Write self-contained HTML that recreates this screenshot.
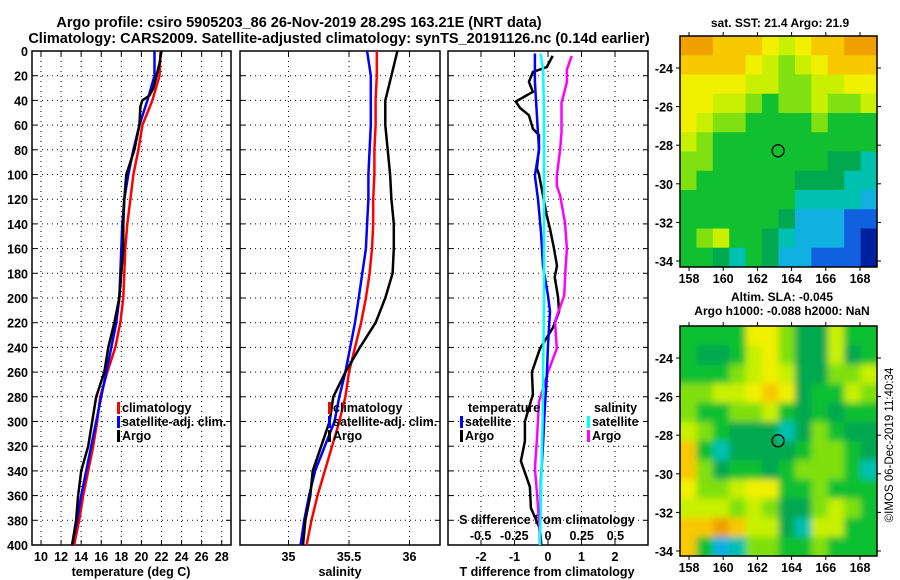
<!DOCTYPE html>
<html><head><meta charset="utf-8">
<style>
html,body{margin:0;padding:0;background:#fff;}
svg{display:block;font-family:"Liberation Sans",sans-serif;font-weight:bold;}
</style></head>
<body>
<svg id="fig" width="900" height="580" viewBox="0 0 900 580" xmlns="http://www.w3.org/2000/svg">
<rect width="900" height="580" fill="#fff"/>
<text x="299" y="27" font-size="14.5" text-anchor="middle">Argo profile: csiro 5905203_86 26-Nov-2019 28.29S 163.21E (NRT data)</text>
<text x="339" y="43" font-size="14.5" text-anchor="middle">Climatology: CARS2009. Satellite-adjusted climatology: synTS_20191126.nc (0.14d earlier)</text>
<text x="780" y="27" font-size="12" text-anchor="middle">sat. SST: 21.4 Argo: 21.9</text>
<text x="782" y="301" font-size="12" text-anchor="middle">Altim. SLA: -0.045</text>
<text x="782" y="315" font-size="12" text-anchor="middle">Argo h1000: -0.088 h2000: NaN</text>
<text transform="translate(893,445) rotate(-90)" font-size="11.5" font-weight="normal" text-anchor="middle">©IMOS 06-Dec-2019 11:40:34</text>
<g id="g"></g>
</svg>
<script>
// ---- data ----
const depthLevels = [0,20,40,60,80,100,120,140,160,180,200,220,240,260,280,300,320,340,360,380,400];
const climT = [21.9,21.8,21.1,20.1,19.7,19.2,18.9,18.6,18.4,18.3,18.2,17.9,17.4,16.6,15.9,15.6,15.2,14.7,14.2,13.8,13.3];
const satT = [21.3,21.3,20.6,19.8,19.2,18.7,18.3,18.1,18.0,17.9,17.8,17.5,17.0,16.5,16.0,15.5,15.0,14.5,14.0,13.6,13.1];
const argoTDepth = [0,10,20,30,36,40,45,60,80,100,120,140,160,180,200,220,240,260,280,300,320,340,360,380,400];
const argoT = [22.0,21.8,21.5,21.2,20.8,20.1,19.9,19.8,19.3,18.5,18.3,18.2,18.2,18.0,17.8,17.3,16.7,16.3,15.5,15.1,14.7,14.0,13.7,13.5,13.1];
const climS = [35.73,35.73,35.72,35.72,35.71,35.71,35.70,35.70,35.69,35.67,35.64,35.60,35.55,35.50,35.47,35.42,35.36,35.30,35.24,35.19,35.15];
const satS = [35.65,35.68,35.68,35.68,35.67,35.66,35.66,35.65,35.64,35.61,35.58,35.55,35.51,35.47,35.42,35.38,35.30,35.22,35.17,35.13,35.10];
const argoS = [35.90,35.85,35.80,35.80,35.82,35.84,35.85,35.87,35.87,35.86,35.80,35.72,35.59,35.47,35.37,35.34,35.27,35.20,35.18,35.14,35.12];
const argoTdDepth = [4,13,17,25,33,41,46,52,63,68,79,95,100,117,133,144,160,174,183,199,211,224,241,260,278,300,316,332,353,370,387,400];
const argoTd = [0.14,-0.04,-0.45,-0.57,-0.45,-0.96,-0.84,-0.57,-0.45,-0.27,-0.27,-0.33,-0.27,-0.15,-0.04,0.06,0.18,0.27,0.2,0.3,0.33,0.15,-0.24,-0.48,-0.45,-0.69,-0.69,-0.81,-0.54,-0.51,-0.24,-0.2];
const satTdDepth = [2,25,52,80,101,120,147,174,198,211,238,265,292,319,346,392,400];
const satTd = [-0.39,-0.39,-0.33,-0.27,-0.39,-0.3,-0.21,-0.15,0,0.06,0,-0.04,-0.1,-0.15,-0.21,-0.24,-0.24];
const satSdDepth = [2,15,50,100,200,300,400];
const satSd = [-0.055,-0.036,-0.03,-0.03,-0.03,-0.04,-0.06];
const argoSdDepth = [4,15,25,42,66,80,101,109,117,139,160,177,198,219,241,260,284,311,338,360,392,400];
const argoSd = [0.176,0.14,0.14,0.1,0.1,0.09,0.065,0.065,0.09,0.126,0.14,0.13,0.12,0.052,0.065,0.0,-0.067,-0.08,-0.097,-0.08,-0.06,-0.06];
const depthTicks = [0,20,40,60,80,100,120,140,160,180,200,220,240,260,280,300,320,340,360,380,400];
const tempTicks = [10,12,14,16,18,20,22,24,26,28];
const salTicks = [35,35.5,36];
const tdTicks = [-2,-1,0,1,2];
const sdTicks = [-0.5,-0.25,0,0.25,0.5];
const sdTickLabels = ["-0.5","-0.25","0","0.25","0.5"];
const latTicks = [-24,-26,-28,-30,-32,-34];
const lonTicks = [158,160,162,164,166,168];
const argoLon = 163.21, argoLat = -28.29;
const sstGrid = [
[10,10,9,9,9,8,7,8,9,9,10,10],
[9,9,9,9,8,7,6,7,8,9,9,9],
[8,8,8,8,7,7,6,6,7,7,8,8],
[8,8,7,7,6,5,6,6,7,6,6,7],
[8,7,6,6,5,5,5,5,6,5,5,5],
[7,6,5,5,5,5,5,5,5,5,5,5],
[6,6,5,5,5,5,5,5,5,4,4,3],
[6,5,5,5,5,5,5,4,4,4,3,3],
[5,5,5,5,5,5,5,3,3,3,3,2],
[5,5,5,5,5,5,4,2,2,2,1,1],
[5,6,7,5,5,4,3,2,2,2,1,0],
[5,5,4,3,5,4,2,2,1,1,1,0]];
const slaGrid = [
[5,5,5,5,8,8,6,4,4,7,5,5],
[5,4,4,5,7,8,6,4,4,7,4,5],
[5,5,5,6,7,8,7,4,4,6,6,7],
[6,6,7,7,8,9,8,4,5,5,7,6],
[6,5,5,6,6,7,5,4,5,4,5,5],
[7,6,5,4,4,4,3,4,6,5,4,4],
[9,5,3,4,4,4,4,5,6,6,5,4],
[9,6,4,5,5,4,5,6,6,6,5,3],
[8,6,6,7,8,8,5,5,6,5,5,5],
[7,7,7,6,7,6,4,4,6,7,6,5],
[9,9,10,9,7,7,4,3,7,7,5,5],
[9,5,2,3,6,6,5,5,6,5,5,5]];
const cmap = ["#0020a0","#1060e0","#10b0e0","#00c0b0","#00a850","#10c030","#80e010","#c8f000","#f0f000","#f8c800","#f0a000"];

// ---- helpers ----
const NS="http://www.w3.org/2000/svg";
const G=document.getElementById('g');
function el(tag,attrs,parent){const e=document.createElementNS(NS,tag);for(const k in attrs)e.setAttribute(k,attrs[k]);(parent||G).appendChild(e);return e;}
const top0=51, bot0=545;
const yD=d=>top0+(bot0-top0)*d/400;
const panels=[
 {name:'temperature-panel',x0:32,x1:231,xs:v=>41+(v-10)*10.04},
 {name:'salinity-panel',x0:240,x1:440,xs:v=>288.5+(v-35)*121},
 {name:'difference-panel',x0:448,x1:648,xs:v=>548+v*33.5}
];
const sdx=v=>548+v*134.8;

panels.forEach((p,pi)=>{
  const grp=el('g',{});
  
  
  const xt = pi===0?tempTicks:pi===1?salTicks:tdTicks;
  depthTicks.forEach(d=>{
    if(d>0&&d<400){const l=el('line',{x1:p.x0,x2:p.x1,y1:yD(d),y2:yD(d),stroke:'#000','stroke-width':1,'stroke-dasharray':'1 4'},grp);
      }
    el('line',{x1:p.x0,x2:p.x0+5,y1:yD(d),y2:yD(d),stroke:'#000'},grp);
    el('line',{x1:p.x1-5,x2:p.x1,y1:yD(d),y2:yD(d),stroke:'#000'},grp);
  });
  xt.forEach(v=>{const x=p.xs(v);
    const l=el('line',{x1:x,x2:x,y1:top0,y2:bot0,stroke:'#000','stroke-dasharray':'1 4'},grp);
    
    el('line',{x1:x,x2:x,y1:top0,y2:top0+5,stroke:'#000'},grp);
    el('line',{x1:x,x2:x,y1:bot0-5,y2:bot0,stroke:'#000'},grp);
    const t=el('text',{x:x,y:561,'font-size':12.5,'text-anchor':'middle'},grp);
    t.textContent=String(v);
    
  });
  const r=el('rect',{x:p.x0,y:top0,width:p.x1-p.x0,height:bot0-top0,fill:'none',stroke:'#000','stroke-width':1.5},grp);
  
});
depthTicks.forEach(d=>{const t=el('text',{x:28,y:yD(d)+5,'font-size':12.5,'text-anchor':'end'});t.textContent=d;
  });
sdTicks.forEach((v,i)=>{const t=el('text',{x:sdx(v),y:540,'font-size':12.5,'text-anchor':'middle'});t.textContent=sdTickLabels[i];
  });
[['temperature (deg C)',131,'temperature-axis-title'],['salinity',340,'salinity-axis-title'],['T difference from climatology',547,'t-diff-axis-title']].forEach(a=>{
  const t=el('text',{x:a[1],y:576,'font-size':12.5,'text-anchor':'middle'});t.textContent=a[0];
  });
{const t=el('text',{x:547,y:524,'font-size':12.5,'text-anchor':'middle'});t.textContent='S difference from climatology';
 }

function line(xs,ds,vals,color,name){
  const pts=vals.map((v,i)=>xs(v).toFixed(1)+','+yD(ds[i]).toFixed(1)).join(' ');
  const l=el('polyline',{points:pts,fill:'none',stroke:color,'stroke-width':2.5,'stroke-linejoin':'miter'});
  
}
const P=panels;
line(P[0].xs,depthLevels,climT,'#ff0000','temp-climatology-line');
line(P[0].xs,depthLevels,satT,'#0000ff','temp-satellite-line');
line(P[0].xs,argoTDepth,argoT,'#000','temp-argo-line');
line(P[1].xs,depthLevels,climS,'#ff0000','sal-climatology-line');
line(P[1].xs,depthLevels,satS,'#0000ff','sal-satellite-line');
line(P[1].xs,depthLevels,argoS,'#000','sal-argo-line');
line(P[2].xs,argoTdDepth,argoTd,'#000','tdiff-argo-line');
line(sdx,argoSdDepth,argoSd,'#ff00ff','sdiff-argo-line');
line(P[2].xs,satTdDepth,satTd,'#0000ff','tdiff-satellite-line');
line(sdx,satSdDepth,satSd,'#00ffff','sdiff-satellite-line');

function legend(x,y,label,color,name){
  const b=el('rect',{x:x,y:y-10,width:3,height:12,fill:color});
  
  const t=el('text',{x:x+5,y:y,'font-size':12.5});t.textContent=label;
  
}
legend(117,412,'climatology','#ff0000','legend-climatology');
legend(117,426,'satellite-adj. clim.','#0000ff','legend-satellite');
legend(117,440,'Argo','#000','legend-argo');
legend(328,412,'climatology','#ff0000','legend-sal-climatology');
legend(328,426,'satellite-adj. clim.','#0000ff','legend-sal-satellite');
legend(328,440,'Argo','#000','legend-sal-argo');
{const t=el('text',{x:468,y:412,'font-size':12.5});t.textContent='temperature';}
legend(460,426,'satellite','#0000ff','legend-tdiff-satellite');
legend(460,440,'Argo','#000','legend-tdiff-argo');
{const t=el('text',{x:594,y:412,'font-size':12.5});t.textContent='salinity';}
legend(587,426,'satellite','#00ffff','legend-sdiff-satellite');
legend(587,440,'Argo','#ff00ff','legend-sdiff-argo');

// ---- maps ----
const defs=el('defs',{});
const f=el('filter',{id:'blur',x:'-5%',y:'-5%',width:'110%',height:'110%'},defs);
el('feGaussianBlur',{stdDeviation:3.5},f);
function map(name,y0,y1,lat24,lat34,grid,blur){
  const x0=680,x1=877;
  const lonX=l=>689+(l-158)*17.1;
  const latY=l=>lat24+(lat34-lat24)*(-24-l)/10;
  const grp=el('g',{});
  
  const cp=el('clipPath',{id:'cp'+name},defs);
  el('rect',{x:x0,y:y0,width:x1-x0,height:y1-y0},cp);
  const inner=el('g',{'clip-path':'url(#cp'+name+')'},grp);
  const cells=el('g',blur?{filter:'url(#blur)'}:{},inner);
  const rows=grid.length, cols=grid[0].length;
  const cw=(x1-x0)/cols, ch=(y1-y0)/rows;
  grid.forEach((row,r)=>row.forEach((v,c)=>{
    const ex=blur&&(c===0||c===cols-1||r===0||r===rows-1)?8:0;
    const e=el('rect',{x:x0+c*cw-(c===0?ex:0),y:y0+r*ch-(r===0?ex:0),width:cw+0.6+ex,height:ch+0.6+ex,fill:cmap[v]},cells);
    
  }));
  const m=el('circle',{cx:lonX(argoLon),cy:latY(argoLat),r:6,fill:'none',stroke:'#000','stroke-width':1.3},grp);
  
  el('rect',{x:x0,y:y0,width:x1-x0,height:y1-y0,fill:'none',stroke:'#000','stroke-width':1.5},grp);
  latTicks.forEach(l=>{const y=latY(l);
    el('line',{x1:x0-4,x2:x0,y1:y,y2:y,stroke:'#000'},grp);
    el('line',{x1:x1,x2:x1+4,y1:y,y2:y,stroke:'#000'},grp);
    const t=el('text',{x:673,y:y+5,'font-size':12.5,'text-anchor':'end'},grp);t.textContent=l;
    });
  lonTicks.forEach(l=>{const x=lonX(l);
    el('line',{x1:x,x2:x,y1:y0-4,y2:y0,stroke:'#000'},grp);
    el('line',{x1:x,x2:x,y1:y1,y2:y1+4,stroke:'#000'},grp);
    const t=el('text',{x:x,y:y1+16,'font-size':12.5,'text-anchor':'middle'},grp);t.textContent=l;
    });
}
map('sst-map',36,267,68,261,sstGrid,false);
map('sla-map',326,556,358,551,slaGrid,true);
</script>
</body></html>
